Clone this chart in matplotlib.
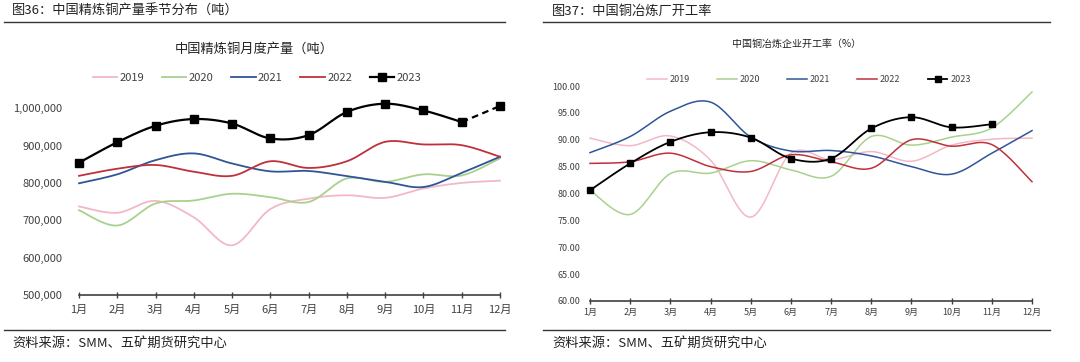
import numpy as np
import matplotlib
matplotlib.use("Agg")
import matplotlib.pyplot as plt
from matplotlib.lines import Line2D
from matplotlib.ticker import FuncFormatter

plt.rcParams['font.family'] = ['Noto Sans CJK SC', 'DejaVu Sans']

months = ['1月', '2月', '3月', '4月', '5月', '6月', '7月', '8月', '9月', '10月', '11月', '12月']
years = ['2019', '2020', '2021', '2022', '2023']
colors = ['#F2B8C6', '#A9D18E', '#2F5597', '#C0303C', '#000000']

# 中国精炼铜月度产量（吨）
prod_2019 = [737000, 720000, 752000, 708000, 633000, 730000, 758000, 767000, 760000, 785000, 800000, 806000]
prod_2020 = [727000, 686000, 745000, 753000, 771000, 762000, 749000, 812000, 803000, 823000, 820000, 866000]
prod_2021 = [799000, 823000, 861000, 879000, 852000, 831000, 832000, 818000, 803000, 789000, 827000, 870000]
prod_2022 = [819000, 838000, 848000, 830000, 819000, 858000, 840000, 858000, 910000, 903000, 901000, 870000]
prod_2023 = [854000, 909000, 953000, 971000, 959000, 919000, 928000, 990000, 1012000, 994000, 963000, 1006000]

# 中国铜冶炼企业开工率（%）
rate_2019 = [90.3, 88.9, 90.7, 86.2, 75.6, 87.5, 86.3, 87.8, 86.0, 89.0, 90.1, 90.3]
rate_2020 = [80.6, 76.1, 83.7, 83.8, 86.1, 84.4, 83.2, 90.6, 89.0, 90.5, 92.2, 98.9]
rate_2021 = [87.6, 90.6, 95.3, 97.0, 90.5, 87.9, 88.0, 87.0, 85.0, 83.6, 87.5, 91.7]
rate_2022 = [85.6, 85.9, 87.5, 85.0, 84.1, 87.2, 85.9, 84.7, 90.0, 88.8, 89.1, 82.2]
rate_2023 = [80.6, 85.6, 89.6, 91.4, 90.4, 86.5, 86.5, 92.1, 94.2, 92.3, 92.9]

W, H = 1080, 362


def smooth(x, y, n=20):
    # Excel-style smoothed line (Catmull-Rom Bezier)
    x = np.asarray(x, float)
    y = np.asarray(y, float)
    px = np.concatenate([[x[0]], x, [x[-1]]])
    py = np.concatenate([[y[0]], y, [y[-1]]])
    xs, ys = [], []
    t = np.linspace(0, 1, n)
    for i in range(1, len(px) - 2):
        p0 = np.array([px[i], py[i]])
        p3 = np.array([px[i + 1], py[i + 1]])
        p1 = p0 + (np.array([px[i + 1], py[i + 1]]) - np.array([px[i - 1], py[i - 1]])) / 6
        p2 = p3 - (np.array([px[i + 2], py[i + 2]]) - np.array([px[i], py[i]])) / 6
        b = ((1 - t) ** 3)[:, None] * p0 + (3 * (1 - t) ** 2 * t)[:, None] * p1 \
            + (3 * (1 - t) * t ** 2)[:, None] * p2 + (t ** 3)[:, None] * p3
        xs.extend(b[:, 0])
        ys.extend(b[:, 1])
    return np.array(xs), np.array(ys)


def px_axes(fig, x0, y0, x1, y1):
    # pixel box (left, top, right, bottom) -> figure axes
    return fig.add_axes([x0 / W, 1 - y1 / H, (x1 - x0) / W, (y1 - y0) / H])


def style_axes(ax, fs, xpad, ypad):
    for s in ['top', 'right', 'left']:
        ax.spines[s].set_visible(False)
    ax.spines['bottom'].set_color('#404040')
    ax.spines['bottom'].set_linewidth(1.2)
    ax.tick_params(axis='y', length=0, labelsize=fs, labelcolor='#404040', pad=ypad)
    ax.tick_params(axis='x', direction='inout', length=4, width=1, color='#404040',
                   labelsize=fs, labelcolor='#404040', pad=xpad)
    ax.set_xticks(range(1, 13))
    ax.set_xticklabels(months)
    ax.set_xlim(1, 12)


fig = plt.figure(figsize=(W / 100, H / 100), dpi=100)
fig.patch.set_facecolor('white')

# frame lines and captions
for x0, x1, y in [(4, 505, 22), (4, 505, 330), (543, 1050, 22), (543, 1050, 330)]:
    fig.add_artist(Line2D([x0 / W, x1 / W], [1 - y / H, 1 - y / H], color='#333333', lw=1))
fig.text(12 / W, 1 - 11 / H, '图36：中国精炼铜产量季节分布（吨）', fontsize=9.5, va='center', color='#222222')
fig.text(552 / W, 1 - 11 / H, '图37：中国铜冶炼厂开工率', fontsize=9.5, va='center', color='#222222')
fig.text(12 / W, 1 - 343 / H, '资料来源：SMM、五矿期货研究中心', fontsize=9.5, va='center', color='#222222')
fig.text(552 / W, 1 - 343 / H, '资料来源：SMM、五矿期货研究中心', fontsize=9.5, va='center', color='#222222')

x = np.arange(1, 13)

# left chart
ax1 = px_axes(fig, 79, 97, 500, 295)
style_axes(ax1, 8, 5, 12)
ax1.set_ylim(500000, 1030000)
ax1.set_yticks(range(500000, 1000001, 100000))
ax1.yaxis.set_major_formatter(FuncFormatter(lambda v, p: f'{int(v):,}'))
for data, c in zip([prod_2019, prod_2020, prod_2021, prod_2022], colors[:4]):
    sx, sy = smooth(x, data)
    ax1.plot(sx, sy, color=c, lw=1.3, clip_on=False)
sx, sy = smooth(x[:11], prod_2023[:11])
ax1.plot(sx, sy, color='black', lw=1.6, clip_on=False)
ax1.plot(x[10:], prod_2023[10:], color='black', lw=1.6, ls=(0, (3, 2)), clip_on=False)
ax1.plot(x, prod_2023, ls='none', marker='s', ms=5.5, color='black', clip_on=False, zorder=5)
fig.text(254 / W, 1 - 49 / H, '中国精炼铜月度产量（吨）', fontsize=9.5, ha='center', va='center', color='#222222')

handles = [Line2D([], [], color=c, lw=1.3) for c in colors[:4]]
handles.append(Line2D([], [], color='black', lw=1.6, marker='s', ms=5.5))
fig.legend(handles, years, loc='center', bbox_to_anchor=(257 / W, 1 - 78 / H), ncol=5,
           frameon=False, fontsize=8, handlelength=2.2, handletextpad=0.2, columnspacing=1.6,
           labelcolor='#404040')

# right chart
ax2 = px_axes(fig, 590, 86, 1032, 301)
style_axes(ax2, 6.5, 3, 7)
ax2.set_ylim(60, 100)
ax2.set_yticks(range(60, 101, 5))
ax2.yaxis.set_major_formatter(FuncFormatter(lambda v, p: f'{v:.2f}'))
for data, c in zip([rate_2019, rate_2020, rate_2021, rate_2022], colors[:4]):
    sx, sy = smooth(x, data)
    ax2.plot(sx, sy, color=c, lw=1.1, clip_on=False)
x23 = x[:len(rate_2023)]
sx, sy = smooth(x23, rate_2023)
ax2.plot(sx, sy, color='black', lw=1.3, clip_on=False)
ax2.plot(x23, rate_2023, ls='none', marker='s', ms=5, color='black', clip_on=False, zorder=5)
fig.text(797 / W, 1 - 44 / H, '中国铜冶炼企业开工率（%）', fontsize=7.2, ha='center', va='center', color='#222222')

handles = [Line2D([], [], color=c, lw=1.1) for c in colors[:4]]
handles.append(Line2D([], [], color='black', lw=1.3, marker='s', ms=4.5))
fig.legend(handles, years, loc='center', bbox_to_anchor=(809 / W, 1 - 80 / H), ncol=5,
           frameon=False, fontsize=6.5, handlelength=2.2, handletextpad=0.3, columnspacing=3.0,
           labelcolor='#404040')

fig.savefig('out.png', dpi=100, facecolor='white')
